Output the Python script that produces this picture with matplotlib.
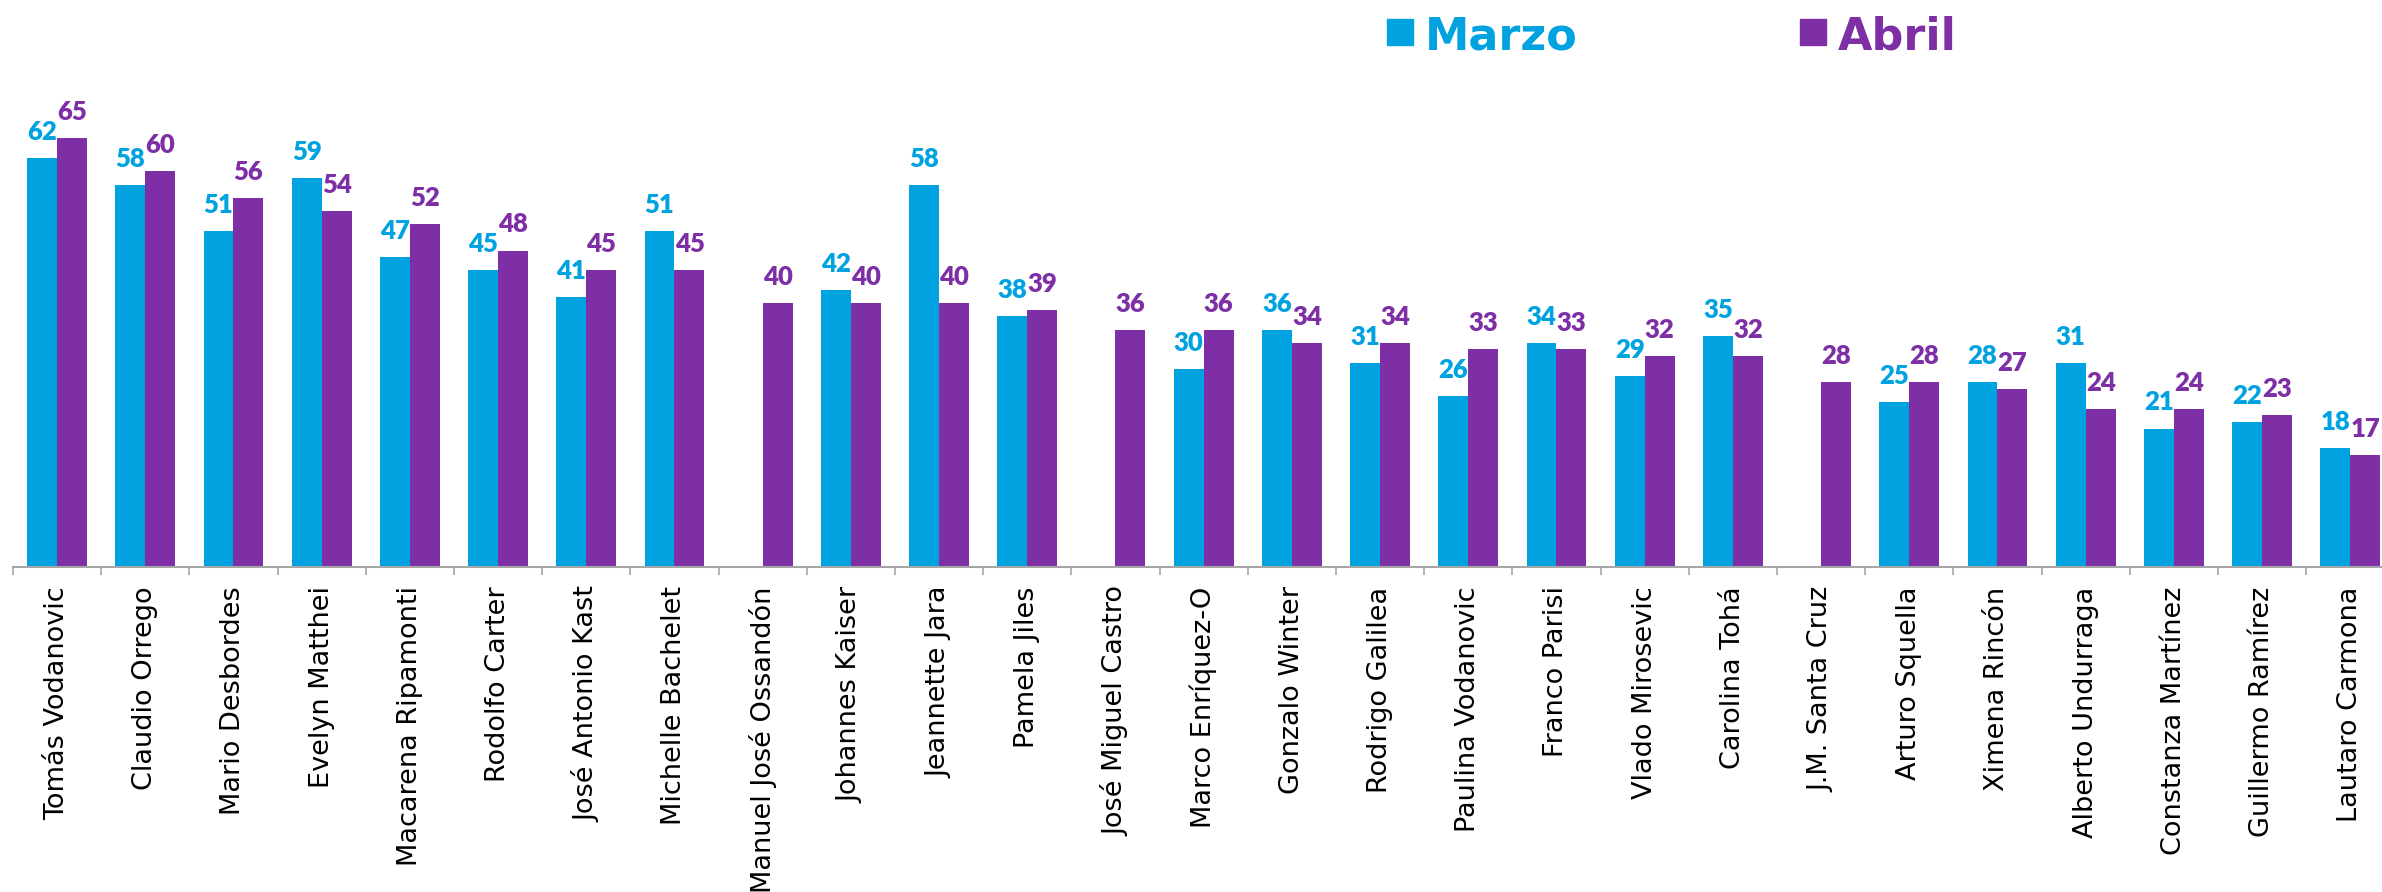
import matplotlib.pyplot as plt
import matplotlib.patches as mpatches
import numpy as np

nombres = ['Tomás Vodanovic', 'Claudio Orrego', 'Mario Desbordes', 'Evelyn Matthei',
           'Macarena Ripamonti', 'Rodolfo Carter', 'José Antonio Kast', 'Michelle Bachelet',
           'Manuel José Ossandón', 'Johannes Kaiser', 'Jeannette Jara', 'Pamela Jiles',
           'José Miguel Castro', 'Marco Enríquez-O', 'Gonzalo Winter', 'Rodrigo Galilea',
           'Paulina Vodanovic', 'Franco Parisi', 'Vlado Mirosevic', 'Carolina Tohá',
           'J.M. Santa Cruz', 'Arturo Squella', 'Ximena Rincón', 'Alberto Undurraga',
           'Constanza Martínez', 'Guillermo Ramírez', 'Lautaro Carmona']
marzo = [62, 58, 51, 59, 47, 45, 41, 51, None, 42, 58, 38, None, 30, 36, 31,
         26, 34, 29, 35, None, 25, 28, 31, 21, 22, 18]
abril = [65, 60, 56, 54, 52, 48, 45, 45, 40, 40, 40, 39, 36, 36, 34, 34,
         33, 33, 32, 32, 28, 28, 27, 24, 24, 23, 17]

c_marzo = '#00A2E0'
c_abril = '#7F2FA6'
gris = '#A6A6A6'

W, H = 2382, 892
fig = plt.figure(figsize=(W / 100, H / 100), dpi=100)
# eje: base en y=567 px, categorias de ~88 px
ax = fig.add_axes([13 / W, (H - 567) / H, 27 * 88.2 / W, 567 / H])

x = np.arange(len(nombres))
w = 0.34
for i, (m, a) in enumerate(zip(marzo, abril)):
    if m is not None:
        ax.bar(i - w / 2, m, w, color=c_marzo)
        ax.annotate(str(m), (i - w / 2, m), xytext=(0, 13), textcoords='offset points',
                    ha='center', va='baseline', color=c_marzo, fontsize=18.5,
                    fontweight='heavy', family='Lato')
    ax.bar(i + w / 2, a, w, color=c_abril)
    ax.annotate(str(a), (i + w / 2, a), xytext=(0, 13), textcoords='offset points',
                ha='center', va='baseline', color=c_abril, fontsize=18.5,
                fontweight='heavy', family='Lato')

ax.set_xlim(-0.5, len(nombres) - 0.5)
ax.set_ylim(0, 86)
ax.set_xticks(x)
ax.set_xticklabels(nombres, rotation=90, fontsize=19.5, family='DejaVu Sans')
ax.set_xticks(np.arange(len(nombres) + 1) - 0.5, minor=True)
ax.tick_params(axis='x', which='major', length=0, pad=14)
ax.tick_params(axis='x', which='minor', length=6, color=gris, width=1.2)
ax.set_yticks([])
for s in ['top', 'right', 'left']:
    ax.spines[s].set_visible(False)
ax.spines['bottom'].set_color(gris)
ax.spines['bottom'].set_linewidth(1.5)

# leyenda arriba
for x0, txt, col in [(1387, 'Marzo', c_marzo), (1800, 'Abril', c_abril)]:
    fig.patches.append(mpatches.Rectangle((x0 / W, 1 - 45 / H), 26 / W, 26 / H,
                                          transform=fig.transFigure, color=col))
    fig.text((x0 + 38) / W, 1 - 49 / H, txt, color=col, fontsize=32,
             fontweight='bold', va='baseline', ha='left')

fig.savefig('out.png', dpi=100)
